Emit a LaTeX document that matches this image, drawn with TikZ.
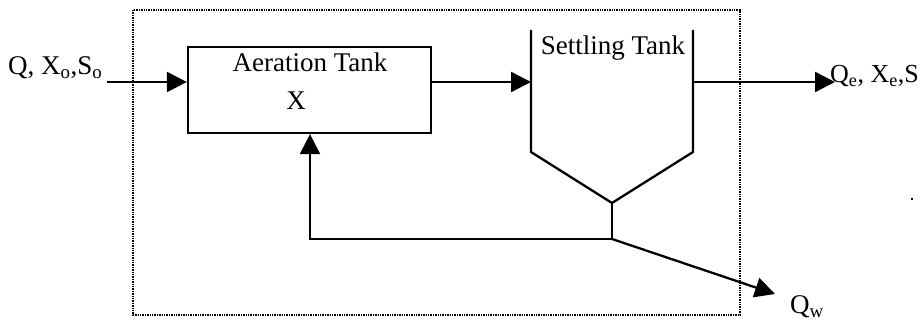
\documentclass[tikz,border=0pt]{standalone}
\usepackage{fontspec}
\setmainfont{Liberation Serif}
\usetikzlibrary{arrows.meta}
\begin{document}
\begin{tikzpicture}[x=1pt,y=-1pt,
  line/.style={line width=2.3pt},
  flow/.style={line, -{Triangle[length=20pt,width=20pt]}},
  lbl/.style={font=\fontsize{27}{31}\selectfont, inner sep=0pt},
  boundary/.style={line width=2.2pt, dash pattern=on 1.4pt off 1pt}]
\useasboundingbox (0,0) rectangle (922,320);
% system boundary
\draw[boundary] (133,10) rectangle (740,315);
% aeration tank
\node[line, draw, rectangle, minimum width=243pt, minimum height=86pt, inner sep=0pt] (aer) at (309.5,90) {};
\node[lbl, anchor=base] (aertxt) at (310,72) {Aeration Tank};
\node[lbl, anchor=base] (aerx) at (296,110) {X};
% settling tank
\coordinate (stl) at (531,30);
\coordinate (stlb) at (531,152);
\coordinate (apex) at (612,203);
\coordinate (strb) at (693,152);
\coordinate (str) at (693,30);
\draw[line, line join=miter] (stl) -- (stlb) -- (apex) -- (strb) -- (str);
\node[lbl, anchor=base] (sttxt) at (613,55) {Settling Tank};
\coordinate (stin) at (531,82);
\coordinate (stout) at (693,82);
% flows
\node[lbl, anchor=base west] (inlbl) at (8,75) {Q, X\textsubscript{o},S\textsubscript{o}};
\coordinate (instart) at (107,82);
\draw[flow] (instart) -- (aer.west |- instart);
\draw[flow] (aer.east |- stin) -- (stin);
\coordinate (outend) at (835,82);
\draw[flow] (stout) -- (outend);
\node[lbl, anchor=base west, font=\fontsize{26}{30}\selectfont] (outlbl) at (830,83) {Q\textsubscript{e}, X\textsubscript{e},S};
\coordinate (junc) at (612,239);
\coordinate (corner) at (310,239);
\draw[line] (apex) -- (junc);
\draw[flow] (junc) -- (corner) -- (corner |- aer.south);
\coordinate (wend) at (775,294);
\draw[flow] (junc) -- (wend);
\node[lbl, anchor=base west] (wlbl) at (790,314) {Q\textsubscript{w}};
% speck
\fill (911,198) rectangle (913,200);
\end{tikzpicture}
\end{document}
